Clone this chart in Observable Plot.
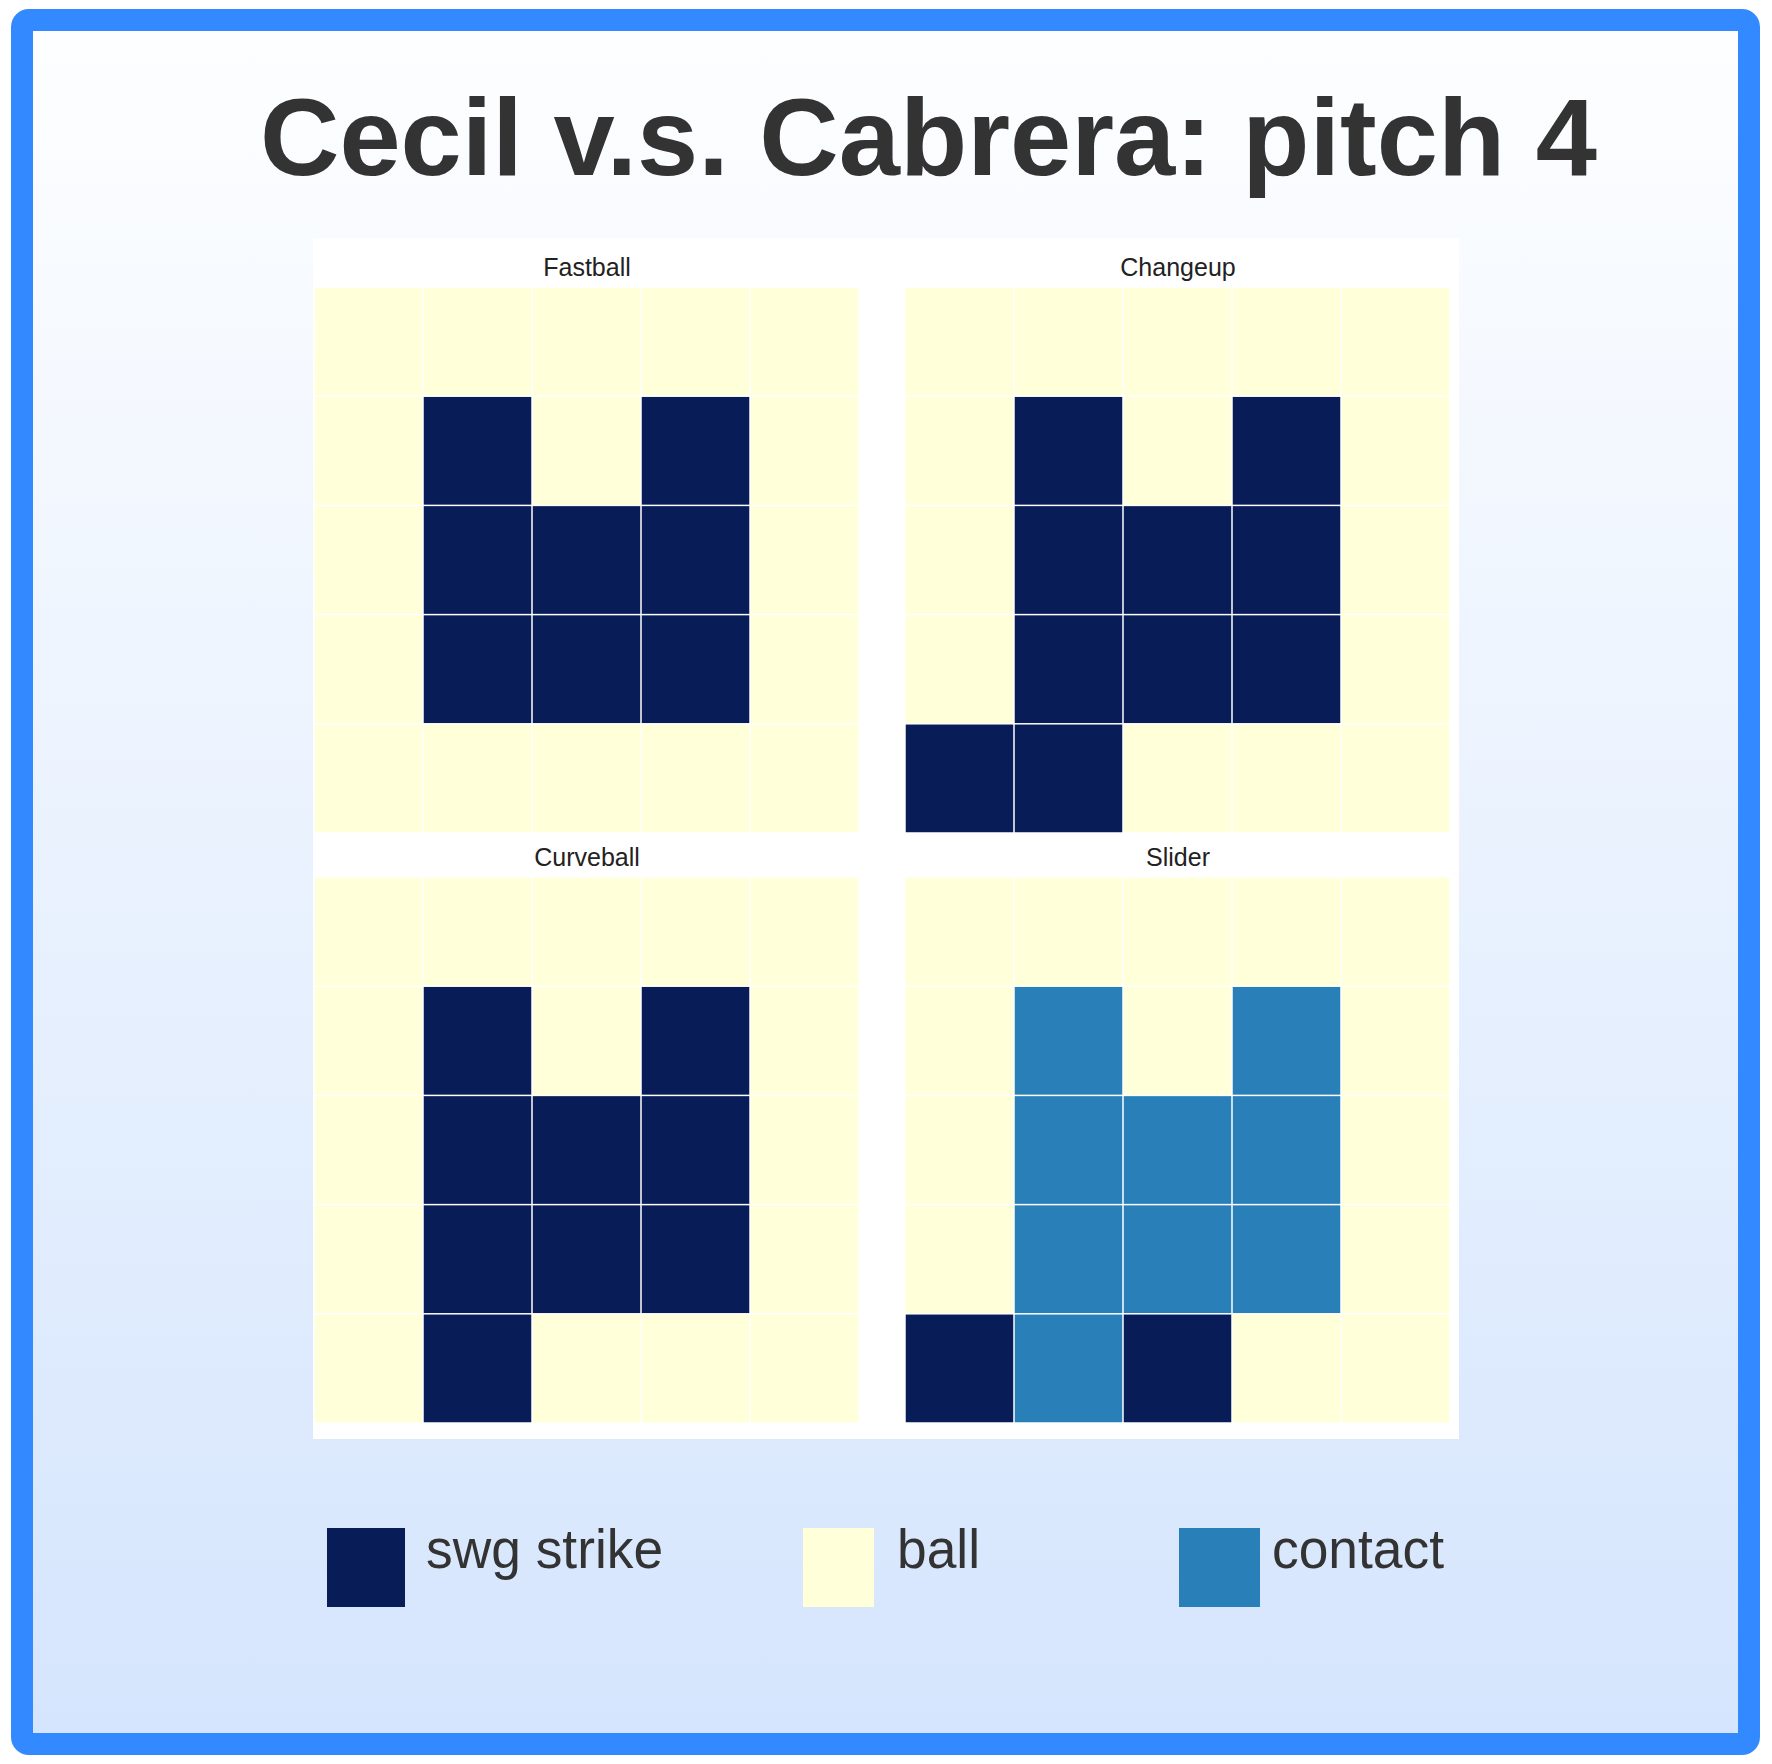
<!DOCTYPE html>
<html><head><meta charset="utf-8">
<script src="https://cdn.jsdelivr.net/npm/d3@7"></script>
<script src="https://cdn.jsdelivr.net/npm/@observablehq/plot@0.6"></script>
<style>
html,body{margin:0;padding:0;background:#fff;}
body{width:1772px;height:1764px;position:relative;overflow:hidden;font-family:"Liberation Sans",Arial,sans-serif;}
#frame{position:absolute;left:11px;top:9px;width:1749px;height:1746px;box-sizing:border-box;border:22px solid #3389ff;border-radius:18px;background:linear-gradient(to bottom,#fdfeff,#d5e5fd);}
#title{position:absolute;left:260px;top:82px;font-size:110px;line-height:110px;font-weight:bold;color:#333;white-space:nowrap;}
#chart{position:absolute;left:313px;top:238px;}
.leg-sw{position:absolute;}
.leg-tx{position:absolute;font-size:55px;line-height:55px;color:#333;white-space:nowrap;transform:scaleX(0.97);transform-origin:0 0;}
</style></head><body>
<div id="frame"></div>
<div id="title">Cecil v.s. Cabrera: pitch 4</div>
<div id="chart"></div>
<div id="legend"></div>
<script>
// ---- data ----
const pitchTypes = ["Fastball", "Changeup", "Curveball", "Slider"];
const outcomes = ["swg strike", "ball", "contact"];
const outcomeColors = ["#081d58", "#ffffd9", "#2980b8"];
const outcomeCodes = {S: "swg strike", B: "ball", C: "contact"};
const zoneCols = [0, 1, 2, 3, 4];
const zoneRows = [0, 1, 2, 3, 4];
const fastballGrid  = ["BBBBB", "BSBSB", "BSSSB", "BSSSB", "BBBBB"];
const changeupGrid  = ["BBBBB", "BSBSB", "BSSSB", "BSSSB", "SSBBB"];
const curveballGrid = ["BBBBB", "BSBSB", "BSSSB", "BSSSB", "BSBBB"];
const sliderGrid    = ["BBBBB", "BCBCB", "BCCCB", "BCCCB", "SCSBB"];

// ---- build tables ----
const grids = [fastballGrid, changeupGrid, curveballGrid, sliderGrid];
const cells = [];
const panels = pitchTypes.map((name, p) => ({name, fx: p % 2, fy: Math.floor(p / 2)}));
grids.forEach((g, p) => {
  zoneRows.forEach(r => zoneCols.forEach(c => {
    cells.push({pitch: pitchTypes[p], col: c, row: r, outcome: outcomeCodes[g[r][c]], fx: p % 2, fy: Math.floor(p / 2)});
  }));
});

const chart = Plot.plot({
  width: 1146, height: 1201,
  marginTop: 49, marginBottom: 16, marginLeft: 1, marginRight: 9,
  fx: {domain: [0, 1], axis: null, paddingInner: 0.0778, paddingOuter: 0, round: false},
  fy: {domain: [0, 1], axis: null, paddingInner: 0.0746, paddingOuter: 0, round: false},
  x: {domain: zoneCols, axis: null, padding: 0, round: false},
  y: {domain: zoneRows, axis: null, padding: 0, round: false},
  color: {domain: outcomes, range: outcomeColors},
  style: {fontFamily: "Liberation Sans, Arial, sans-serif", background: "white"},
  marks: [
    Plot.cell(cells, {x: "col", y: "row", fx: "fx", fy: "fy", fill: "outcome", inset: 0.75}),
    Plot.text(panels, {fx: "fx", fy: "fy", text: "name", frameAnchor: "top", dy: -29, fontSize: 25, fill: "#222"})
  ]
});
document.getElementById("chart").appendChild(chart);

// ---- legend (HTML below the chart) ----
const legSwatchX = [327, 803, 1179];
const legSwatchW = [78, 71, 81];
const legTextX = [426, 897, 1272];
const legend = document.getElementById("legend");
outcomes.forEach((o, i) => {
  const sw = document.createElement("div");
  sw.className = "leg-sw";
  sw.style.cssText = `left:${legSwatchX[i]}px;top:1528px;width:${legSwatchW[i]}px;height:79px;background:${outcomeColors[i]};`;
  legend.appendChild(sw);
  const tx = document.createElement("div");
  tx.className = "leg-tx";
  tx.style.left = legTextX[i] + "px";
  tx.style.top = "1522px";
  tx.textContent = o;
  legend.appendChild(tx);
});
</script>
</body></html>
